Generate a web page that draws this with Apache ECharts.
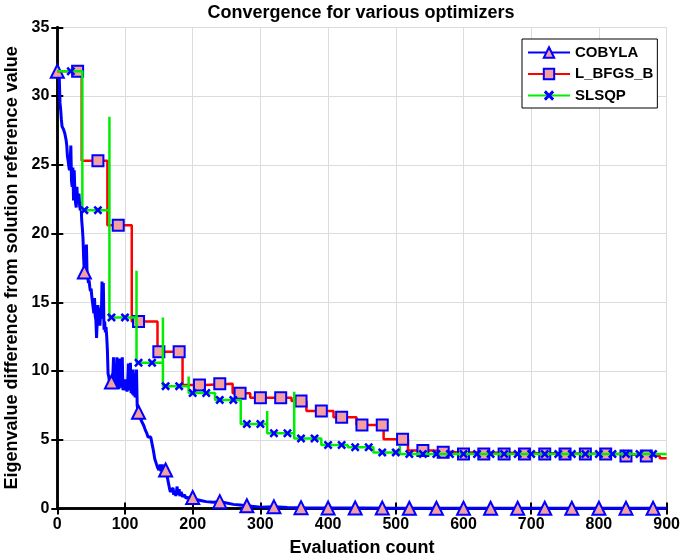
<!DOCTYPE html>
<html><head><meta charset="utf-8">
<script src="https://cdn.jsdelivr.net/npm/echarts@6/dist/echarts.min.js"></script>
<style>html,body{margin:0;padding:0;background:#fff}#c{width:682px;height:558px}</style>
</head><body><div id="c"></div>
<script>
const titleText = 'Convergence for various optimizers';
const xName = 'Evaluation count';
const yName = 'Eigenvalue difference from solution reference value';
const seriesNames = ['COBYLA', 'L_BFGS_B', 'SLSQP'];

// COBYLA (noisy curve)
const cobylaX = [0,1,2,3,4,5,6,7,9,11,13,14,15,16,17,18,19,20,21,22,23,24,25,26,27,28,29,30,31,32,33,34,35,36,37,38,39,40,41,42,43,44,45,46,47,48,49,50,51,52,53,54,55,56,57,58,59,60,61,62,63,64,65,66,67,68,69,70,71,72,73,74,75,76,77,78,79,80,81,82,83,84,85,86,87,88,89,90,91,92,93,94,95,96,97,98,99,100,101,102,103,104,105,106,107,108,109,110,111,112,113,114,115,116,117,118,119,120,122,124,126,128,130,132,134,136,138,140,142,144,146,148,150,152,153,155,156,158,160,162,164,166,167,169,171,172,174,175,177,178,180,181,183,185,188,190,193,196,200,205,210,215,220,230,240,250,260,270,280,290,300,320,340,360,400,450,500,600,700,800,900];
const cobylaY = [31.8,32.1,31.6,31.2,29.5,29.0,28.3,27.8,27.6,27.3,26.8,26.4,25.6,25.3,24.9,24.6,25.2,26.4,23.8,23.4,24.8,22.4,24.6,23.0,22.2,21.9,23.4,22.2,22.6,22.9,22.0,21.7,22.3,21.0,20.4,19.6,18.1,17.2,17.6,18.4,19.2,17.1,16.8,16.4,16.6,16.1,15.8,16.0,15.4,15.0,14.6,14.2,15.3,14.0,13.7,12.4,13.6,14.8,13.4,14.6,13.3,14.2,13.8,16.5,14.0,16.4,13.0,13.6,12.8,13.2,12.5,11.5,9.8,9.6,9.2,9.5,9.0,9.2,8.8,9.6,11.0,8.8,9.2,8.7,9.4,11.0,8.9,9.3,8.7,10.9,8.8,9.1,9.8,11.0,8.6,9.0,8.6,9.4,8.7,8.9,8.5,9.2,10.55,8.6,8.8,10.6,8.4,8.7,8.3,10.1,8.2,8.4,8.1,8.0,10.1,7.5,7.2,7.0,6.7,6.4,6.3,6.0,5.7,5.5,5.2,5.1,5.2,4.7,4.2,3.6,3.3,3.0,2.8,3.2,2.7,3.2,2.8,2.9,2.8,2.4,1.9,1.4,1.2,1.1,1.5,1.0,1.3,0.9,1.6,1.0,1.4,0.9,1.2,0.85,1.0,0.75,0.8,0.7,0.8,0.65,0.6,0.55,0.5,0.45,0.5,0.4,0.3,0.25,0.2,0.15,0.1,0.12,0.08,0.06,0.04,0.03,0.02,0.02,0.02,0.02,0.02];
const cobylaMarkX = [0,40,80,120,160,200,240,280,320,360,400,440,480,520,560,600,640,680,720,760,800,840,880];

// L_BFGS_B (step curve)
const lbStarts = [0,36,74,110,148,185,218,259,285,346,368,408,442,482,518,555,590,835,890];
const lbLevels = [31.8,25.3,20.6,13.6,11.4,8.98,9.08,8.38,8.06,7.82,7.09,6.63,6.07,5.03,4.22,4.1,3.96,3.82,3.65];
const lbEnd = 900;
const lbMarkX = [30,60,90,120,150,180,210,240,270,300,330,360,390,420,450,480,510,540,570,600,630,660,690,720,750,780,810,840,870];

// SLSQP (step curve with spikes)
const slStarts = [0,37,77,117,156,194,233,271,310,350,390,429,467,506];
const slLevels = [31.8,21.7,13.9,10.6,8.9,8.4,7.9,6.15,5.47,5.1,4.62,4.45,4.08,3.96];
const slSpikes = [null,null,28.5,17.3,13.9,9.6,null,null,7.1,8.5,null,null,null,4.55];
const slEnd = 900;
const slMarkX = [20,40,60,80,100,120,140,160,180,200,220,240,260,280,300,320,340,360,380,400,420,440,460,480,500,520,540,560,580,600,620,640,660,680,700,720,740,760,780,800,820,840,860,880];

const xTicks = {min: 0, max: 900, interval: 100};
const yTicks = {min: 0, max: 35, interval: 5};

function lookup(xs, ys, x) {
  let v = ys[0];
  for (let i = 0; i < xs.length; i++) { if (xs[i] <= x) v = ys[i]; else break; }
  return v;
}
function stepLine(starts, levels, spikes, endX) {
  const pts = [[starts[0], levels[0]]];
  for (let i = 1; i < starts.length; i++) {
    pts.push([starts[i], levels[i - 1]]);
    if (spikes && spikes[i] != null) pts.push([starts[i], spikes[i]]);
    pts.push([starts[i], levels[i]]);
  }
  pts.push([endX, levels[levels.length - 1]]);
  return pts;
}

const cobylaData = cobylaX.map((x, i) => [x, cobylaY[i]]);
const cobylaMarks = cobylaMarkX.map(x => [x, lookup(cobylaX, cobylaY, x)]);
const lbData = stepLine(lbStarts, lbLevels, null, lbEnd);
const lbMarks = lbMarkX.map(x => [x, lookup(lbStarts, lbLevels, x)]);
const slData = stepLine(slStarts, slLevels, slSpikes, slEnd);
const slMarks = slMarkX.map(x => [x, lookup(slStarts, slLevels, x)]);

const FONT = '"Liberation Sans", Arial, Helvetica, sans-serif';
const BLUE = '#0000ff', RED = '#ff0000', GREEN = '#00ee00', PINK = '#f4a0a0';
const XSYM = 'path://M0,2L2,0L5,3L8,0L10,2L7,5L10,8L8,10L5,7L2,10L0,8L3,5Z';

const chart = echarts.init(document.getElementById('c'), null, {renderer: 'canvas'});
const axisCommon = {
  axisLine: {show: true, lineStyle: {color: '#000', width: 2.5}},
  axisTick: {show: true, inside: true, length: 6, lineStyle: {color: '#000', width: 2}},
};
chart.setOption({
  animation: false,
  backgroundColor: '#fff',
  graphic: [{
    type: 'text', x: 361, y: 13,
    style: {text: titleText, align: 'center', verticalAlign: 'middle', textAlign: 'center', textVerticalAlign: 'middle',
      fontFamily: FONT, fontWeight: 'bold', fontSize: 18, fill: '#000'}
  }],
  grid: {left: 57.3, right: 15.4, top: 27.3, bottom: 49.5, containLabel: false, outerBoundsMode: 'none'},
  legend: {
    data: seriesNames, orient: 'vertical', left: 522, top: 39,
    itemWidth: 42, itemHeight: 13, itemGap: 6.5, padding: [6, 4, 5, 5],
    borderColor: '#000', borderWidth: 1, backgroundColor: '#fff', borderRadius: 0,
    textStyle: {fontFamily: FONT, fontWeight: 'bold', fontSize: 15, color: '#000'}
  },
  xAxis: [
    Object.assign({
      type: 'value', position: 'bottom', min: xTicks.min, max: xTicks.max, interval: xTicks.interval,
      name: xName, nameLocation: 'middle', nameGap: 31,
      nameTextStyle: {fontFamily: FONT, fontWeight: 'bold', fontSize: 18, color: '#000'},
      axisLabel: {margin: 8, fontFamily: FONT, fontWeight: 'bold', fontSize: 16, color: '#000'},
      splitLine: {show: true, lineStyle: {color: '#dcdcdc', width: 1}}
    }, axisCommon),
    Object.assign({
      type: 'value', position: 'top', min: xTicks.min, max: xTicks.max, interval: xTicks.interval,
      axisLabel: {show: false}, splitLine: {show: false}
    }, axisCommon)
  ],
  yAxis: [
    Object.assign({
      type: 'value', position: 'left', min: yTicks.min, max: yTicks.max, interval: yTicks.interval,
      name: yName, nameLocation: 'middle', nameGap: 31,
      nameTextStyle: {fontFamily: FONT, fontWeight: 'bold', fontSize: 18, color: '#000'},
      axisLabel: {margin: 8, fontFamily: FONT, fontWeight: 'bold', fontSize: 16, color: '#000'},
      splitLine: {show: true, lineStyle: {color: '#dcdcdc', width: 1}}
    }, axisCommon),
    Object.assign({
      type: 'value', position: 'right', min: yTicks.min, max: yTicks.max, interval: yTicks.interval,
      axisLabel: {show: false}, splitLine: {show: false}
    }, axisCommon)
  ],
  series: [
    {name: seriesNames[0], type: 'line', data: cobylaData, showSymbol: false, symbol: 'triangle', symbolSize: 13,
      lineStyle: {color: BLUE, width: 3}, itemStyle: {color: PINK, borderColor: BLUE, borderWidth: 2, opacity: 1},
      emphasis: {disabled: true}, z: 2},
    {name: 'COBYLA markers', type: 'scatter', data: cobylaMarks, symbol: 'triangle', symbolSize: 13,
      itemStyle: {color: PINK, borderColor: BLUE, borderWidth: 2, opacity: 1}, emphasis: {disabled: true}, z: 3},
    {name: seriesNames[1], type: 'line', data: lbData, showSymbol: false, symbol: 'rect', symbolSize: 11,
      lineStyle: {color: RED, width: 2.5}, itemStyle: {color: PINK, borderColor: BLUE, borderWidth: 2, opacity: 1},
      emphasis: {disabled: true}, z: 4},
    {name: 'L_BFGS_B markers', type: 'scatter', data: lbMarks, symbol: 'rect', symbolSize: 11,
      itemStyle: {color: PINK, borderColor: BLUE, borderWidth: 2, opacity: 1}, emphasis: {disabled: true}, z: 5},
    {name: seriesNames[2], type: 'line', data: slData, showSymbol: false, symbol: XSYM, symbolSize: 9,
      lineStyle: {color: GREEN, width: 2.5}, itemStyle: {color: BLUE, opacity: 1},
      emphasis: {disabled: true}, z: 6},
    {name: 'SLSQP markers', type: 'scatter', data: slMarks, symbol: XSYM, symbolSize: 9,
      itemStyle: {color: BLUE, opacity: 1}, emphasis: {disabled: true}, z: 7}
  ]
});
</script></body></html>
